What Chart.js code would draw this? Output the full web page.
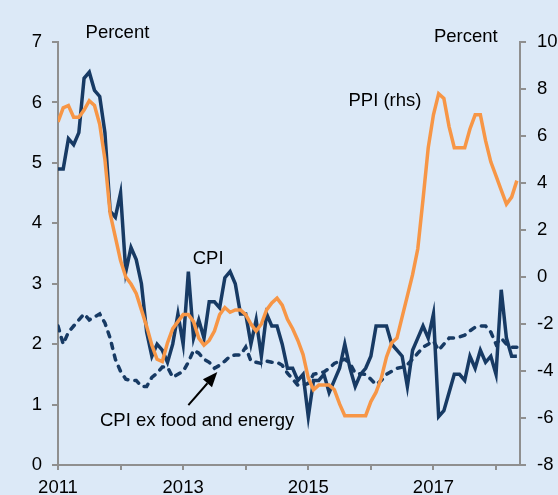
<!DOCTYPE html>
<html lang="en">
  <head>
    <meta charset="UTF-8" />
    <title>CPI and PPI</title>
    <script src="https://cdn.jsdelivr.net/npm/chart.js@4.4.1/dist/chart.umd.min.js"></script>
    <style>
      html, body { margin: 0; padding: 0; background: #dce9f7; }
      canvas { display: block; }
    </style>
  </head>
  <body>
    <canvas id="myChart" width="558" height="495"></canvas>

    <script>
      // monthly, Jan 2011 - May 2018, year-on-year percent
      const startYear = 2011
      const tickYears = [2011, 2012, 2013, 2014, 2015, 2016, 2017, 2018]
      const labeledYears = [2011, 2013, 2015, 2017]

      const cpi = [
        4.9, 4.9, 5.4, 5.3, 5.5, 6.4, 6.5, 6.2, 6.1, 5.5, 4.2, 4.1,
        4.5, 3.2, 3.6, 3.4, 3.0, 2.2, 1.8, 2.0, 1.9, 1.7, 2.0, 2.5,
        2.0, 3.2, 2.1, 2.4, 2.1, 2.7, 2.7, 2.6, 3.1, 3.2, 3.0, 2.5,
        2.5, 2.0, 2.4, 1.8, 2.5, 2.3, 2.3, 2.0, 1.6, 1.6, 1.4, 1.5,
        0.8, 1.4, 1.4, 1.5, 1.2, 1.4, 1.6, 2.0, 1.6, 1.3, 1.5, 1.6,
        1.8, 2.3, 2.3, 2.3, 2.0, 1.9, 1.8, 1.3, 1.9, 2.1, 2.3, 2.1,
        2.5, 0.8, 0.9, 1.2, 1.5, 1.5, 1.4, 1.8, 1.6, 1.9, 1.7, 1.8,
        1.5, 2.9, 2.1, 1.8, 1.8
      ]

      const cpiCore = [
        2.3, 2.0, 2.2, 2.3, 2.4, 2.5, 2.4, 2.45, 2.5, 2.35, 2.1, 1.75,
        1.55, 1.42, 1.4, 1.4, 1.3, 1.3, 1.45, 1.52, 1.62, 1.62, 1.45, 1.5,
        1.55, 1.7, 1.9, 1.85, 1.75, 1.7, 1.6, 1.65, 1.72, 1.8, 1.82, 1.82,
        1.95, 1.72, 1.7, 1.68, 1.72, 1.7, 1.7, 1.65, 1.52, 1.42, 1.32, 1.32,
        1.35, 1.5, 1.52, 1.54, 1.6, 1.68, 1.72, 1.75, 1.68, 1.52, 1.51, 1.5,
        1.42, 1.33, 1.4, 1.5, 1.55, 1.6, 1.62, 1.66, 1.75, 1.85, 1.95, 2.0,
        2.05, 1.9, 2.0, 2.1, 2.1, 2.12, 2.15, 2.22, 2.28, 2.3, 2.3, 2.2,
        2.0, 2.1, 2.0, 1.95, 1.95
      ]

      const ppi = [
        6.6, 7.2, 7.3, 6.8, 6.8, 7.1, 7.5, 7.3, 6.5, 5.0, 2.7, 1.7,
        0.7, 0.0, -0.3, -0.7, -1.4, -2.1, -2.9, -3.5, -3.6, -2.8, -2.2, -1.9,
        -1.6, -1.6, -1.9, -2.6, -2.9, -2.7, -2.3, -1.6, -1.3, -1.5, -1.4, -1.4,
        -1.6, -2.0, -2.3, -2.0, -1.4, -1.1, -0.9, -1.2, -1.8, -2.2, -2.7, -3.3,
        -4.3, -4.8, -4.6, -4.6, -4.6, -4.8, -5.4, -5.9, -5.9, -5.9, -5.9, -5.9,
        -5.3, -4.9, -4.3, -3.4, -2.8, -2.6, -1.7, -0.8, 0.1, 1.2, 3.3, 5.5,
        6.9, 7.8, 7.6, 6.4, 5.5, 5.5, 5.5, 6.3, 6.9, 6.9, 5.8, 4.9,
        4.3, 3.7, 3.1, 3.4, 4.1
      ]

      const navy = '#173a64'
      const orange = '#f79646'
      const axisGrey = '#8f8f8f'
      const fontFamily = '"Liberation Sans", Arial, sans-serif'

      // text labels, placed in chart units (month index, left-axis value)
      const notes = [
        { text: 'Percent', m: 11.4, v: 7.15, align: 'center' },
        { text: 'Percent', m: 78.2, v: 7.09, align: 'center' },
        { text: 'PPI (rhs)', m: 62.7, v: 6.03, align: 'center' },
        { text: 'CPI', m: 28.8, v: 3.41, align: 'center' },
        { text: 'CPI ex food and energy', m: 8.05, v: 0.73, align: 'left' }
      ]
      const arrow = { from: [25.0, 0.99], to: [30.55, 1.54] }

      const toPoints = values => values.map((v, i) => ({ x: i, y: v }))

      const notesPlugin = {
        id: 'notes',
        afterDraw(chart) {
          const { ctx } = chart
          const x = chart.scales.x
          const y = chart.scales.y
          ctx.save()
          ctx.fillStyle = '#000'
          ctx.font = '18.5px ' + fontFamily
          ctx.textBaseline = 'middle'
          notes.forEach(n => {
            ctx.textAlign = n.align
            ctx.fillText(n.text, x.getPixelForValue(n.m), y.getPixelForValue(n.v))
          })

          // arrow pointing at the dashed line
          const x0 = x.getPixelForValue(arrow.from[0])
          const y0 = y.getPixelForValue(arrow.from[1])
          const x1 = x.getPixelForValue(arrow.to[0])
          const y1 = y.getPixelForValue(arrow.to[1])
          const ang = Math.atan2(y1 - y0, x1 - x0)
          const head = 15
          const half = 6
          const bx = x1 - head * Math.cos(ang)
          const by = y1 - head * Math.sin(ang)
          ctx.strokeStyle = '#000'
          ctx.lineWidth = 2
          ctx.beginPath()
          ctx.moveTo(x0, y0)
          ctx.lineTo(bx, by)
          ctx.stroke()
          ctx.beginPath()
          ctx.moveTo(x1, y1)
          ctx.lineTo(bx + half * Math.sin(ang), by - half * Math.cos(ang))
          ctx.lineTo(bx - half * Math.sin(ang), by + half * Math.cos(ang))
          ctx.closePath()
          ctx.fill()
          ctx.restore()
        }
      }

      Chart.defaults.font.family = fontFamily
      Chart.defaults.font.size = 18.5
      Chart.defaults.color = '#000'

      const ctx = document.getElementById('myChart').getContext('2d')
      const myChart = new Chart(ctx, {
        type: 'line',
        data: {
          datasets: [
            {
              label: 'PPI (rhs)',
              data: toPoints(ppi),
              yAxisID: 'y1',
              borderColor: orange,
              borderWidth: 3.5,
              pointRadius: 0,
              fill: false
            },
            {
              label: 'CPI',
              data: toPoints(cpi),
              yAxisID: 'y',
              borderColor: navy,
              borderWidth: 3.5,
              pointRadius: 0,
              fill: false
            },
            {
              label: 'CPI ex food and energy',
              data: toPoints(cpiCore),
              yAxisID: 'y',
              borderColor: navy,
              borderWidth: 3.5,
              borderDash: [5, 7],
              borderCapStyle: 'round',
              pointRadius: 0,
              fill: false
            }
          ]
        },
        options: {
          responsive: false,
          animation: false,
          devicePixelRatio: 1,
          layout: { padding: { top: 42 } },
          plugins: { legend: { display: false }, tooltip: { enabled: false } },
          scales: {
            x: {
              type: 'linear',
              min: 0,
              max: 88.6,
              afterBuildTicks: s => { s.ticks = tickYears.map(yr => ({ value: (yr - startYear) * 12 })) },
              afterFit: s => { s.height = 30 },
              grid: { drawOnChartArea: false, tickLength: 5, color: axisGrey, lineWidth: 2 },
              border: { color: axisGrey, width: 2 },
              ticks: {
                autoSkip: false,
                maxRotation: 0,
                padding: 7,
                callback: v => {
                  const yr = startYear + v / 12
                  return labeledYears.includes(yr) ? String(yr) : ''
                }
              }
            },
            y: {
              position: 'left',
              min: 0,
              max: 7,
              afterFit: s => { s.width = 58 },
              grid: { drawOnChartArea: false, tickLength: 6, color: axisGrey, lineWidth: 2 },
              border: { color: axisGrey, width: 2 },
              ticks: { stepSize: 1, padding: 10 }
            },
            y1: {
              position: 'right',
              min: -8,
              max: 10,
              afterFit: s => { s.width = 38 },
              grid: { drawOnChartArea: false, tickLength: 6, color: axisGrey, lineWidth: 2 },
              border: { color: axisGrey, width: 2 },
              ticks: { stepSize: 2, padding: 11 }
            }
          }
        },
        plugins: [notesPlugin]
      })
    </script>
  </body>
</html>
